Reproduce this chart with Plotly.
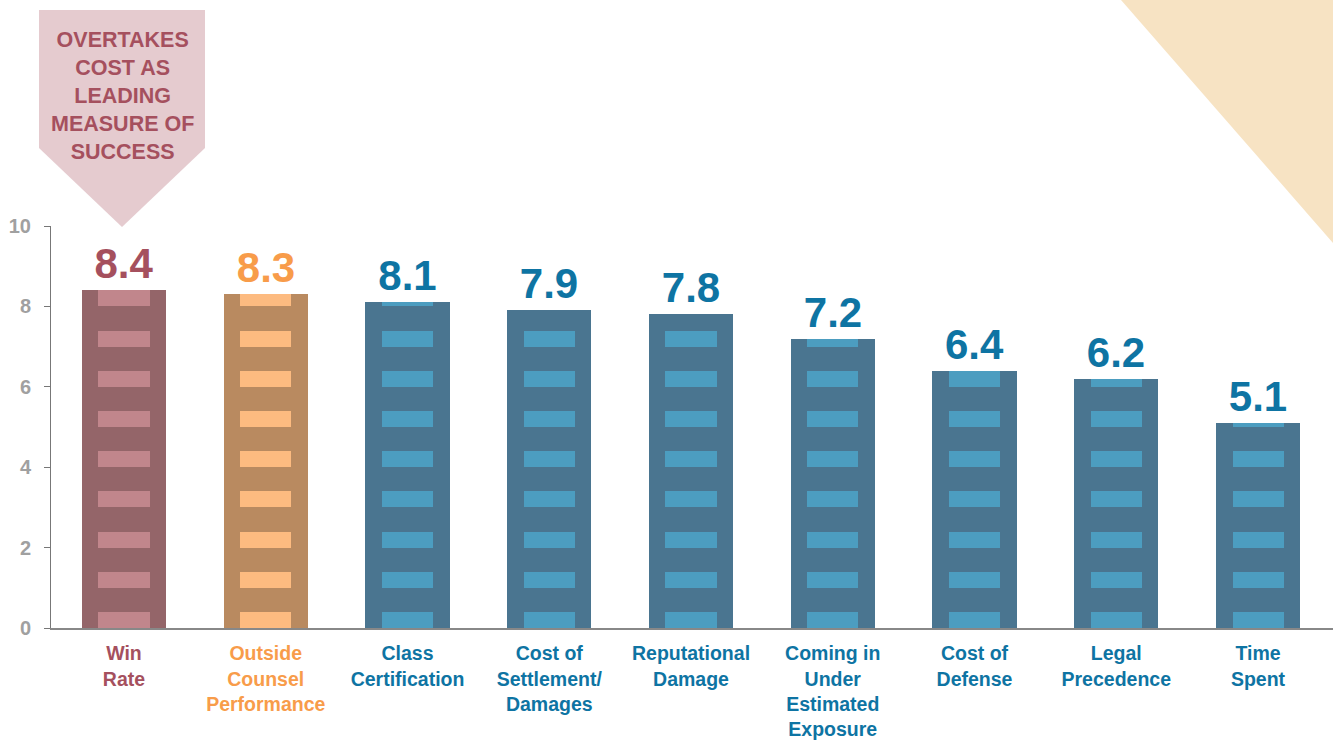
import plotly.graph_objects as go

# ---- data ----
categories = ["Win Rate", "Outside Counsel Performance", "Class Certification",
              "Cost of Settlement/ Damages", "Reputational Damage",
              "Coming in Under Estimated Exposure", "Cost of Defense",
              "Legal Precedence", "Time Spent"]
tick_labels = ["Win<br>Rate", "Outside<br>Counsel<br>Performance", "Class<br>Certification",
               "Cost of<br>Settlement/<br>Damages", "Reputational<br>Damage",
               "Coming in<br>Under<br>Estimated<br>Exposure", "Cost of<br>Defense",
               "Legal<br>Precedence", "Time<br>Spent"]
values = [8.4, 8.3, 8.1, 7.9, 7.8, 7.2, 6.4, 6.2, 5.1]
y_ticks = [0, 2, 4, 6, 8, 10]
callout_text = "OVERTAKES<br>COST AS<br>LEADING<br>MEASURE OF<br>SUCCESS"

# ---- styles ----
group = ["win", "outside"] + ["other"] * 7
bar_color = {"win": "#946569", "outside": "#B98A60", "other": "#4A7590"}
win_color = {"win": "#C1868C", "outside": "#FDBB80", "other": "#4C9DC0"}
txt_color = {"win": "#A5505E", "outside": "#F89C4A", "other": "#0E74A3"}
FONT = "'Liberation Sans', Arial, sans-serif"

xs = list(range(len(categories)))

fig = go.Figure()

# building bars
fig.add_trace(go.Bar(
    x=xs, y=values, width=0.593,
    marker=dict(color=[bar_color[g] for g in group], line=dict(width=0)),
    text=[f"<b>{v:.1f}</b>" for v in values], textposition="outside",
    textfont=dict(family=FONT, size=42, color=[txt_color[g] for g in group]),
    constraintext="none", cliponaxis=False, hoverinfo="skip", showlegend=False,
))

# windows: one per unit level, 0.4 tall, clipped by bar height
wx, wb, wy, wc = [], [], [], []
for k in range(10):
    for i, v in enumerate(values):
        h = min(0.4, v - k)
        if h > 0:
            wx.append(i); wb.append(k); wy.append(h); wc.append(win_color[group[i]])
fig.add_trace(go.Bar(
    x=wx, y=wy, base=wb, width=0.36,
    marker=dict(color=wc, line=dict(width=0)),
    hoverinfo="skip", showlegend=False,
))

# ---- layout geometry (pixels -> paper) ----
L, R, T, B = 51, 0, 226, 113
W, H = 1333, 741
pw, ph = W - L - R, H - T - B
def px(x):
    return (x - L) / pw
def py(y):
    return (H - B - y) / ph

shapes = [
    # callout pentagon
    dict(type="path", xref="paper", yref="paper",
         path=f"M {px(39)},{py(10)} L {px(205)},{py(10)} L {px(205)},{py(148)} "
              f"L {px(122)},{py(227)} L {px(39)},{py(148)} Z",
         fillcolor="#E5CBCF", line=dict(width=0), layer="below"),
    # decorative corner
    dict(type="path", xref="paper", yref="paper",
         path=f"M {px(1121)},{py(0)} L {px(1333)},{py(0)} L {px(1333)},{py(243)} Z",
         fillcolor="#F7E3C3", line=dict(width=0), layer="below"),
]

fig.update_layout(
    width=W, height=H,
    margin=dict(l=L, r=R, t=T, b=B, pad=0, autoexpand=False),
    paper_bgcolor="white", plot_bgcolor="white",
    barmode="overlay", bargap=0,
    shapes=shapes,
    annotations=[dict(
        x=px(122), y=py(96), xref="paper", yref="paper",
        text=f"<b>{callout_text}</b>", showarrow=False,
        font=dict(family=FONT, size=21.5, color="#A5505E"),
        align="center", xanchor="center", yanchor="middle",
    )],
    xaxis=dict(
        range=[-0.515, 8.529], tickvals=xs, automargin=False,
        ticktext=[f"<span style='color:{txt_color[g]}'><b>{t}</b></span>"
                  for g, t in zip(group, tick_labels)],
        tickfont=dict(family=FONT, size=19.5),
        ticklabelstandoff=7,
        showline=True, linecolor="#888888", linewidth=2,
        ticks="", showgrid=False, zeroline=False, fixedrange=True,
    ),
    yaxis=dict(
        range=[0, 10], tickvals=y_ticks, automargin=False,
        ticktext=[f"<b>{t}</b>" for t in y_ticks],
        tickfont=dict(family=FONT, size=20, color="#A0A0A0"),
        showline=True, linecolor="#777777", linewidth=1,
        ticks="outside", ticklen=6, tickcolor="#777777",
        ticklabelstandoff=9,
        showgrid=False, zeroline=False, fixedrange=True,
    ),
)

fig.write_html("out.html")
